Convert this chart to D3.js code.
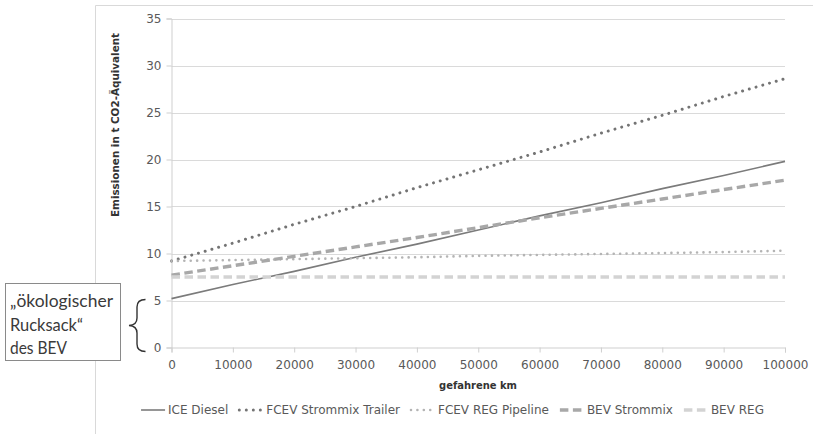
<!DOCTYPE html>
<html>
<head>
<meta charset="utf-8">
<script src="https://cdn.jsdelivr.net/npm/d3@7/dist/d3.min.js"></script>
<style>
  html, body { margin: 0; padding: 0; background: #fff; }
  svg { display: block; }
</style>
</head>
<body>
<svg id="chart" width="813" height="434"></svg>
<script>
// Kilometres driven (x categories)
const kmTicks = [0, 10000, 20000, 30000, 40000, 50000, 60000, 70000, 80000, 90000, 100000];
// Cumulative emissions in t CO2-equivalent per drive concept
const iceDiesel        = [5.2, 6.7, 8.1, 9.6, 11.0, 12.5, 14.0, 15.4, 16.9, 18.3, 19.8];
const fcevStrommix     = [9.2, 11.1, 13.1, 15.0, 17.0, 18.9, 20.8, 22.8, 24.7, 26.7, 28.6];
const fcevRegPipeline  = [9.2, 9.3, 9.4, 9.5, 9.6, 9.75, 9.85, 9.95, 10.05, 10.15, 10.3];
const bevStrommix      = [7.7, 8.7, 9.7, 10.7, 11.7, 12.75, 13.8, 14.8, 15.8, 16.8, 17.8];
const bevReg           = [7.5, 7.5, 7.5, 7.5, 7.5, 7.5, 7.5, 7.5, 7.5, 7.5, 7.5];
const seriesNames = ["ICE Diesel", "FCEV Strommix Trailer", "FCEV REG Pipeline", "BEV Strommix", "BEV REG"];
const yTicks = [0, 5, 10, 15, 20, 25, 30, 35];
const annotationLines = ["\u201Eökologischer", "Rucksack\u201C", "des BEV"];

const series = [
  { name: seriesNames[0], values: iceDiesel,       color: "#7b7b7b", width: 1.6, dash: null,        cap: "butt" },
  { name: seriesNames[1], values: fcevStrommix,    color: "#747474", width: 3.0, dash: "0.01 7",    cap: "round" },
  { name: seriesNames[2], values: fcevRegPipeline, color: "#b4b4b4", width: 2.6, dash: "0.01 6.4",  cap: "round" },
  { name: seriesNames[3], values: bevStrommix,     color: "#a8a8a8", width: 3.4, dash: "8.5 4.5",   cap: "butt" },
  { name: seriesNames[4], values: bevReg,          color: "#d3d3d3", width: 3.4, dash: "8.5 4.5",   cap: "butt" }
];

const svg = d3.select("#chart");
const FONT = "'DejaVu Sans', sans-serif";

const x = d3.scaleLinear().domain([0, 100000]).range([171.5, 785]);
const y = d3.scaleLinear().domain([0, 35]).range([347.5, 18.5]);

// chart area frame (top and left edges)
svg.append("path")
  .attr("d", "M95.5,434 V5.5 H813")
  .attr("fill", "none")
  .attr("stroke", "#d9d9d9")
  .attr("stroke-width", 1);

// horizontal gridlines
svg.append("g")
  .selectAll("line")
  .data(yTicks.filter(d => d > 0))
  .join("line")
  .attr("x1", x.range()[0])
  .attr("x2", x.range()[1])
  .attr("y1", d => Math.round(y(d)) + 0.5)
  .attr("y2", d => Math.round(y(d)) + 0.5)
  .attr("stroke", "#dadada")
  .attr("stroke-width", 1);

// y axis
const yAxis = svg.append("g")
  .attr("transform", `translate(${x.range()[0]},0)`)
  .call(d3.axisLeft(y).tickValues(yTicks).tickSize(5).tickPadding(5).tickFormat(d3.format("d")));
yAxis.select(".domain").attr("stroke", "#cfcfcf");
yAxis.selectAll(".tick line").attr("stroke", "#cfcfcf");
yAxis.selectAll(".tick text")
  .attr("font-family", FONT).attr("font-size", 12).attr("fill", "#595959");

// x axis
const xAxis = svg.append("g")
  .attr("transform", `translate(0,${y(0)})`)
  .call(d3.axisBottom(x).tickValues(kmTicks).tickSize(5).tickPadding(8).tickFormat(d3.format("d")));
xAxis.select(".domain").attr("stroke", "#cfcfcf");
xAxis.selectAll(".tick line").attr("stroke", "#cfcfcf");
xAxis.selectAll(".tick text")
  .attr("font-family", FONT).attr("font-size", 12).attr("fill", "#595959");

// axis titles
svg.append("text")
  .attr("transform", "translate(119,125) rotate(-90)")
  .attr("text-anchor", "middle")
  .attr("font-family", FONT).attr("font-weight", "bold").attr("font-size", 11)
  .attr("fill", "#333")
  .attr("textLength", 184).attr("lengthAdjust", "spacingAndGlyphs")
  .text("Emissionen in t CO2-Äquivalent");

svg.append("text")
  .attr("x", 478).attr("y", 389)
  .attr("text-anchor", "middle")
  .attr("font-family", FONT).attr("font-weight", "bold").attr("font-size", 11)
  .attr("fill", "#333")
  .attr("textLength", 78).attr("lengthAdjust", "spacingAndGlyphs")
  .text("gefahrene km");

// series lines
const line = d3.line()
  .x((d, i) => x(kmTicks[i]))
  .y(d => y(d));

svg.append("g")
  .selectAll("path")
  .data(series)
  .join("path")
  .attr("d", d => line(d.values))
  .attr("fill", "none")
  .attr("stroke", d => d.color)
  .attr("stroke-width", d => d.width)
  .attr("stroke-dasharray", d => d.dash)
  .attr("stroke-linecap", d => d.cap);

// legend
const legend = svg.append("g");
const sampleW = 24, gapText = 3, gapItem = 11;
const legendY = 410;
const items = legend.selectAll("g").data(series).join("g");
items.append("line")
  .attr("x1", 0).attr("x2", sampleW)
  .attr("y1", legendY).attr("y2", legendY)
  .attr("stroke", d => d.color)
  .attr("stroke-width", d => d.width)
  .attr("stroke-dasharray", d => d.dash)
  .attr("stroke-linecap", d => d.cap);
items.append("text")
  .attr("x", sampleW + gapText).attr("y", legendY + 4.3)
  .attr("font-family", FONT).attr("font-size", 12).attr("fill", "#595959")
  .text(d => d.name);
let cursor = 0;
items.each(function () {
  const g = d3.select(this);
  const w = sampleW + gapText + g.select("text").node().getComputedTextLength();
  g.attr("transform", `translate(${cursor},0)`);
  cursor += w + gapItem;
});
const legendWidth = cursor - gapItem;
legend.attr("transform", `translate(${452.5 - legendWidth / 2},0)`);

// annotation box on the left
svg.append("rect")
  .attr("x", 5.5).attr("y", 283.5)
  .attr("width", 115).attr("height", 77)
  .attr("fill", "#fff")
  .attr("stroke", "#8a8a8a")
  .attr("stroke-width", 1);

const annLengths = [103, 73, 57];
svg.append("g")
  .selectAll("text")
  .data(annotationLines)
  .join("text")
  .attr("x", 10)
  .attr("y", (d, i) => 307 + i * 23.5)
  .attr("font-family", "Lato, 'Open Sans', sans-serif")
  .attr("font-size", 17)
  .attr("fill", "#3a3a3a")
  .attr("textLength", (d, i) => annLengths[i])
  .attr("lengthAdjust", "spacingAndGlyphs")
  .text(d => d);

// curly brace spanning the 0–5 t range
svg.append("path")
  .attr("d", "M145.5,299.5 Q137,299.5 137,307 L137,318 Q137,325 129,325.5 Q137,326 137,333 L137,344 Q137,351.5 145.5,351.5")
  .attr("fill", "none")
  .attr("stroke", "#333")
  .attr("stroke-width", 1.4);
</script>
</body>
</html>
